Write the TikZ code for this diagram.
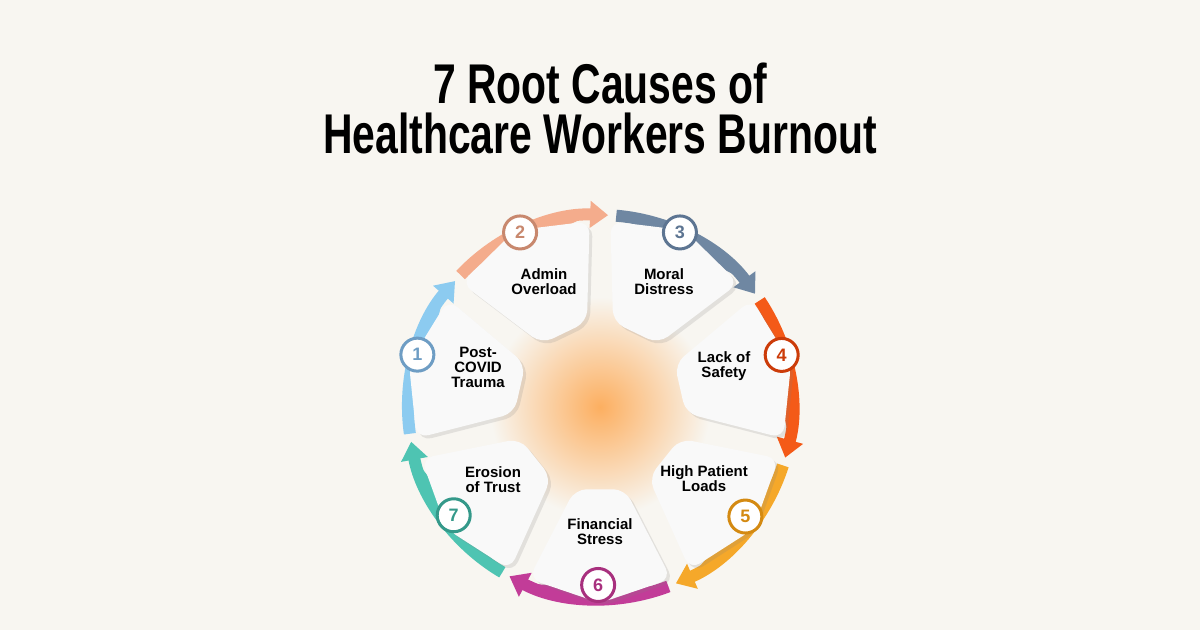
\documentclass[tikz,border=0pt]{standalone}
\usepackage{fontspec}
\setmainfont{Liberation Sans}
\usetikzlibrary{arrows.meta,shadows,calc}
\definecolor{bg}{HTML}{F8F6F1}
\definecolor{cA}{HTML}{8CCBF0}\definecolor{bA}{HTML}{6E9DC4}
\definecolor{cB}{HTML}{F4AC8C}\definecolor{bB}{HTML}{C8886E}
\definecolor{cC}{HTML}{6F87A2}\definecolor{bC}{HTML}{5D7592}
\definecolor{cD}{HTML}{F45A18}\definecolor{bD}{HTML}{CC3C0A}
\definecolor{cE}{HTML}{F5A82A}\definecolor{bE}{HTML}{D48A12}
\definecolor{cF}{HTML}{C23C98}\definecolor{bF}{HTML}{A8307E}
\definecolor{cG}{HTML}{4EC4B2}\definecolor{bG}{HTML}{34998A}
\tikzset{
  ringarc/.style={line width=12pt,-{Triangle[width=26pt,length=18pt]}},
  wedge/.style={fill=white!95!gray,rounded corners=12pt,drop shadow={opacity=0.18,shadow xshift=3pt,shadow yshift=-3pt}},
  lbl/.style={font=\fontsize{15}{15}\selectfont\bfseries,align=center},
  badge/.style={circle,draw=#1,line width=3pt,fill=white,minimum size=33pt,inner sep=0pt,text=#1,font=\fontsize{18}{18}\selectfont\bfseries,drop shadow={opacity=0.2,shadow xshift=1pt,shadow yshift=-1pt}},
  ttl/.style={font=\fontsize{56}{56}\selectfont\bfseries,xscale=0.73,transform shape,inner sep=0pt}
}
\begin{document}
\begin{tikzpicture}[x=1pt,y=1pt]
\fill[bg] (0,0) rectangle (1200,-630);
\useasboundingbox (0,0) rectangle (1200,-630);
\coordinate (C) at (600,-407);
\node[ttl] (t1) at (600,-83) {7 Root Causes of};
\node[ttl] (t2) at (600,-133) {Healthcare Workers Burnout};
% glow
\shade[inner color=orange!60!bg,outer color=bg] (C) circle (110);
% arcs
\foreach \col [count=\k] in {cA,cB,cC,cD,cE,cF,cG}{
  \pgfmathsetmacro\tip{135-51.43*(\k-1)}
  \pgfmathsetmacro\st{\tip+53}
  \draw[ringarc,draw=\col,fill=\col] ($(C)+(\st:192)$) arc[start angle=\st,end angle=\tip+4,radius=192];
}
% wedges
\foreach \m in {-90,-38.57,12.86,64.29,115.71,167.14,218.57}{
  \path[wedge] ($(C)+(\m-17:86)$) -- ($(C)+(\m-22.5:186)$) -- ($(C)+(\m:196)$) -- ($(C)+(\m+22.5:186)$) -- ($(C)+(\m+17:86)$) -- cycle;
}
% labels
\node[lbl] (l1) at (478,-367) {Post-\\COVID\\Trauma};
\node[lbl] (l2) at (544,-282) {Admin\\Overload};
\node[lbl] (l3) at (664,-282) {Moral\\Distress};
\node[lbl] (l4) at (724,-366) {Lack of\\Safety};
\node[lbl] (l5) at (704,-479) {High Patient\\Loads};
\node[lbl] (l6) at (600,-532) {Financial\\Stress};
\node[lbl] (l7) at (493,-480) {Erosion\\of Trust};
% badges
\node[badge=bA] (b1) at ($(C)+(164:190)$) {1};
\node[badge=bB] (b2) at ($(C)+(114.6:192)$) {2};
\node[badge=bC] (b3) at ($(C)+(65.4:192)$) {3};
\node[badge=bD] (b4) at ($(C)+(16:189)$) {4};
\node[badge=bE] (b5) at ($(C)+(-37:182)$) {5};
\node[badge=bF] (b6) at ($(C)+(-90.6:178)$) {6};
\node[badge=bG] (b7) at ($(C)+(-143.5:182)$) {7};
\end{tikzpicture}
\end{document}
